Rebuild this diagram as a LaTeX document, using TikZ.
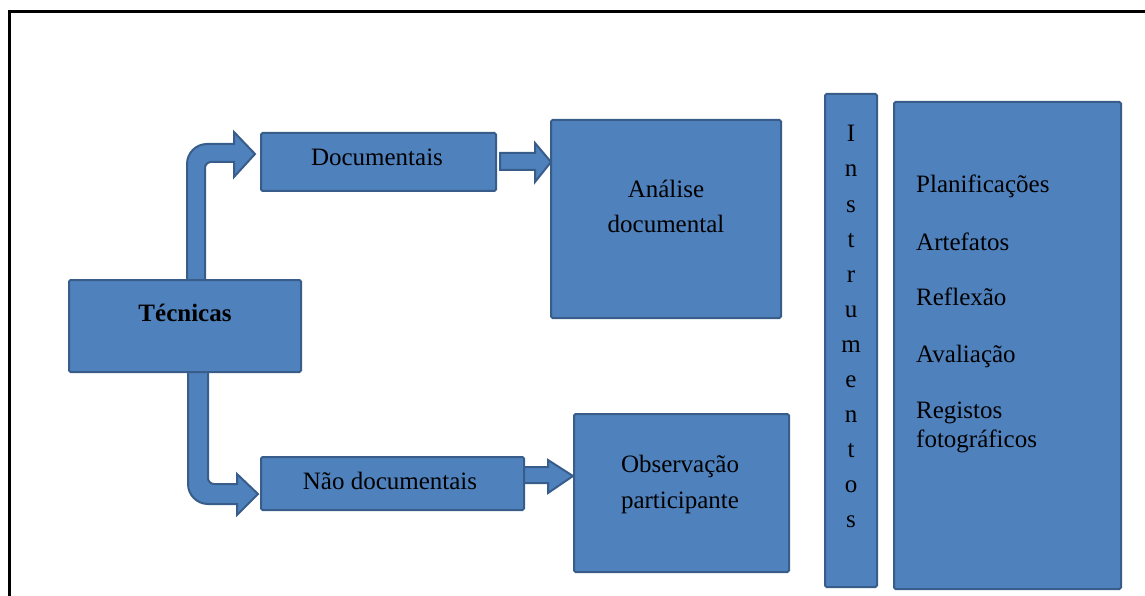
\documentclass[tikz,border=0pt]{standalone}
\usepackage{fontspec}
\setmainfont{Liberation Serif}
\definecolor{fillc}{HTML}{4F81BD}
\definecolor{bdr}{HTML}{385D8A}
\begin{document}
\begin{tikzpicture}[x=1pt,y=-1pt,
  box/.style={draw=bdr,fill=fillc,line width=2pt,rounded corners=1.5pt,inner sep=0pt},
  arr/.style={draw=bdr,fill=fillc,line width=2pt,line join=miter},
  txt/.style={font=\fontsize{25}{30}\selectfont,inner sep=0pt,anchor=base},
  ltxt/.style={font=\fontsize{25}{30}\selectfont,inner sep=0pt,anchor=base west}]
\useasboundingbox (0,0) rectangle (1145,596);
\draw[line width=3.5pt] (9.5,600) -- (9.5,11.5) -- (1150,11.5);

% arrows (drawn under the boxes)
\draw[arr] (187,285) -- (187,164) .. controls (187,153) and (196,144) .. (207,144) -- (234,144) -- (234,132) -- (255,154) -- (234,177) -- (234,162) -- (211,162) .. controls (207.7,162) and (205,164.7) .. (205,168) -- (205,285) -- cycle;
\draw[arr] (188,367) -- (188,484) .. controls (188,495) and (197,504) .. (208,504) -- (237,504) -- (237,515) -- (258,494) -- (237,474) -- (237,484) -- (214,484) .. controls (210.7,484) and (208,481.3) .. (208,478) -- (208,367) -- cycle;
\draw[arr] (500,153) -- (535,153) -- (535,143) -- (551,162) -- (535,182) -- (535,170) -- (500,170) -- cycle;
\draw[arr] (520,467) -- (548,467) -- (548,460) -- (573,476) -- (548,493) -- (548,483) -- (520,483) -- cycle;

% boxes
\node[box,minimum width=232pt,minimum height=92pt] (tec) at (185,326) {};
\node[box,minimum width=235pt,minimum height=58pt] (doc) at (378.5,162) {};
\node[box,minimum width=230pt,minimum height=198pt] (ana) at (666,219) {};
\node[box,minimum width=263pt,minimum height=53pt] (ndoc) at (392.5,483.5) {};
\node[box,minimum width=215pt,minimum height=158pt] (obs) at (681.5,493) {};
\node[box,minimum width=52pt,minimum height=493pt] (ins) at (851,340.5) {};
\node[box,minimum width=227pt,minimum height=487pt] (lst) at (1007.5,345.5) {};

% texts
\node[txt,font={\fontsize{25}{30}\selectfont\bfseries}] (tTec) at (185,321) {Técnicas};
\node[txt] (tDoc) at (377,166) {Documentais};
\node[txt] (tAna1) at (666,197) {Análise};
\node[txt] (tAna2) at (666,233) {documental};
\node[txt] (tNd) at (390,489) {Não documentais};
\node[txt] (tObs1) at (680,472) {Observação};
\node[txt] (tObs2) at (680,508) {participante};
\foreach \c [count=\i from 0] in {I,n,s,t,r,u,m,e,n,t,o,s}
  \node[txt] (ins\i) at (851,142+35*\i) {\c};
\node[ltxt] (l1) at (916,193) {Planificações};
\node[ltxt] (l2) at (916,250) {Artefatos};
\node[ltxt] (l3) at (916,305) {Reflexão};
\node[ltxt] (l4) at (916,362) {Avaliação};
\node[ltxt] (l5) at (916,418) {Registos};
\node[ltxt] (l6) at (916,447) {fotográficos};
\end{tikzpicture}
\end{document}
